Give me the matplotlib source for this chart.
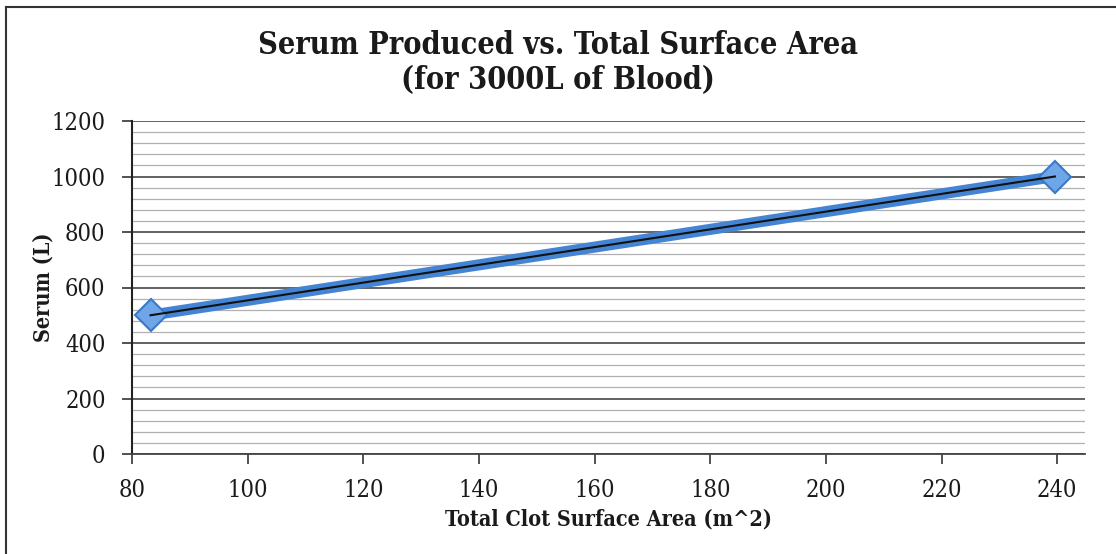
import matplotlib
matplotlib.use('Agg')
from matplotlib import pyplot as plt
from matplotlib.lines import Line2D
import numpy as np

# Surface area (m^2) and serum volume (L)
surface_area = [83.2, 239.6]
serum = [500, 1000]
x_ticks = [80, 100, 120, 140, 160, 180, 200, 220, 240]
y_ticks = [0, 200, 400, 600, 800, 1000, 1200]

plt.rcParams['font.family'] = ['DejaVu Serif']
plt.rcParams['font.stretch'] = 'condensed'

fig = plt.figure(figsize=(11.16, 5.54), dpi=100)
ax = fig.add_axes([132 / 1116, 1 - 454 / 554, (1085 - 132) / 1116, (454 - 121) / 554])

# gridlines: major every 200, minor every 40
ax.set_yticks(y_ticks)
ax.set_yticks(np.arange(0, 1201, 40), minor=True)
ax.yaxis.grid(True, which='major', color='#555555', linewidth=1.3)
ax.yaxis.grid(True, which='minor', color='#b0b0b0', linewidth=0.9)
ax.tick_params(axis='y', which='minor', length=0)
ax.set_axisbelow(True)

# series with diamond markers
ax.plot(surface_area, serum, color='#4384d4', linewidth=8, solid_capstyle='butt',
        marker='D', markersize=16, markerfacecolor='#6ea6e8',
        markeredgecolor='#3a78c8', markeredgewidth=1.5, zorder=3)
# linear trendline through the points
fit = np.polyfit(surface_area, serum, 1)
ax.plot(surface_area, np.polyval(fit, surface_area), color='#111111', linewidth=1.5, zorder=4)

ax.set_xlim(80, 244.8)
ax.set_ylim(0, 1200)
ax.set_xticks(x_ticks)

for side in ['top', 'right']:
    ax.spines[side].set_visible(False)
ax.spines['left'].set_color('#222222')
ax.spines['bottom'].set_color('#444444')
ax.spines['left'].set_linewidth(1.5)
ax.spines['bottom'].set_linewidth(1.3)
ax.tick_params(axis='both', which='major', labelsize=17, length=7, width=1.2,
               color='#333333', labelcolor='#1a1a1a')
ax.tick_params(axis='x', direction='out', pad=11)
ax.tick_params(axis='y', pad=12)

ax.set_xlabel('Total Clot Surface Area (m^2)', fontsize=15.5, fontweight='bold',
              color='#1a1a1a', labelpad=5)
ax.set_ylabel('Serum (L)', fontsize=15.5, fontweight='bold', color='#1a1a1a', labelpad=-2)

fig.text(0.5, 1 - 45 / 554, 'Serum Produced vs. Total Surface Area', ha='center', va='center',
         fontsize=22, fontweight='bold', color='#1a1a1a')
fig.text(0.5, 1 - 81 / 554, '(for 3000L of Blood)', ha='center', va='center',
         fontsize=22, fontweight='bold', color='#1a1a1a')

# chart frame
fig.add_artist(Line2D([6 / 1116, 6 / 1116], [0, 1 - 7 / 554], color='#333333',
                      linewidth=1.5, transform=fig.transFigure))
fig.add_artist(Line2D([6 / 1116, 1], [1 - 7 / 554, 1 - 7 / 554], color='#333333',
                      linewidth=1.5, transform=fig.transFigure))

fig.savefig('out.png', dpi=100)
